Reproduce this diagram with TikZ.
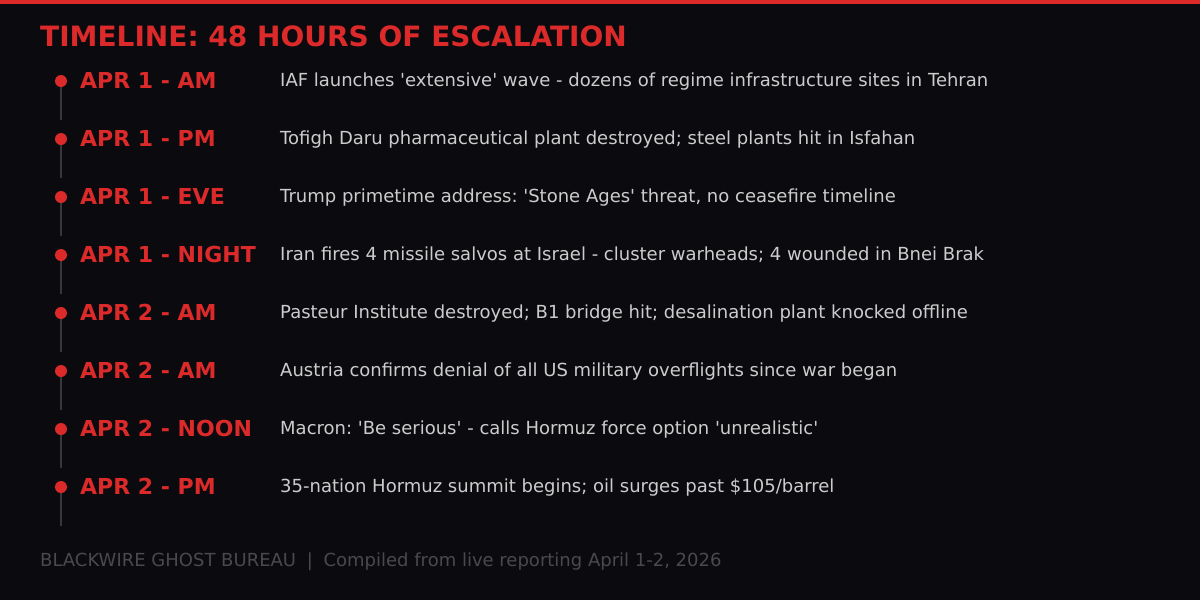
\documentclass[tikz,border=0pt]{standalone}
\usepackage{fontspec}
\setmainfont{DejaVu Sans}[Ligatures=TeXOff]
\frenchspacing
\definecolor{bgdark}{HTML}{0B0B0F}
\definecolor{alertred}{HTML}{DC2A2A}
\definecolor{desctext}{HTML}{CCCCCC}
\definecolor{footgray}{HTML}{4A4A4E}
\definecolor{stemgray}{HTML}{38383C}
\begin{document}
\begin{tikzpicture}[x=1pt,y=-1pt,
 dot/.style={shape=circle, fill=alertred, inner sep=0pt, minimum size=12pt, node contents=},
 when/.style={anchor=base west, inner sep=0pt, text=alertred, font=\fontsize{22}{26}\selectfont\bfseries},
 what/.style={anchor=base west, inner sep=0pt, text=desctext, font=\fontsize{18}{22}\selectfont},
 stem/.style={draw=stemgray, line width=2pt}]

 % background and top bar
 \useasboundingbox[fill=bgdark] (0,0) rectangle (1200,600);
 \fill[alertred] (0,0) rectangle (1200,4);

 % title
 \node (title) at (40,46) [anchor=base west, inner sep=0pt, text=alertred,
 font=\fontsize{28}{32}\selectfont\bfseries] {TIMELINE: 48 HOURS OF ESCALATION};

 % stems
 \coordinate (s1) at (61,120);
 \coordinate (s2) at (61,178);
 \coordinate (s3) at (61,236);
 \coordinate (s4) at (61,294);
 \coordinate (s5) at (61,352);
 \coordinate (s6) at (61,410);
 \coordinate (s7) at (61,468);
 \coordinate (s8) at (61,526);
 \coordinate (t1) at (61,81);
 \coordinate (t2) at (61,139);
 \coordinate (t3) at (61,197);
 \coordinate (t4) at (61,255);
 \coordinate (t5) at (61,313);
 \coordinate (t6) at (61,371);
 \coordinate (t7) at (61,429);
 \coordinate (t8) at (61,487);
 \draw[stem] (t1) -- (s1);
 \draw[stem] (t2) -- (s2);
 \draw[stem] (t3) -- (s3);
 \draw[stem] (t4) -- (s4);
 \draw[stem] (t5) -- (s5);
 \draw[stem] (t6) -- (s6);
 \draw[stem] (t7) -- (s7);
 \draw[stem] (t8) -- (s8);

 % APR 1
 \node (p1) at (t1) [dot];
 \node (d1) at (80,88) [when] {APR 1 - AM};
 \node (e1) at (280,86) [what] {IAF launches 'extensive' wave - dozens of regime infrastructure sites in Tehran};

 \node (p2) at (t2) [dot];
 \node (d2) at (80,146) [when] {APR 1 - PM};
 \node (e2) at (280,144) [what] {Tofigh Daru pharmaceutical plant destroyed; steel plants hit in Isfahan};

 \node (p3) at (t3) [dot];
 \node (d3) at (80,204) [when] {APR 1 - EVE};
 \node (e3) at (280,202) [what] {Trump primetime address: 'Stone Ages' threat, no ceasefire timeline};

 \node (p4) at (t4) [dot];
 \node (d4) at (80,262) [when] {APR 1 - NIGHT};
 \node (e4) at (280,260) [what] {Iran fires 4 missile salvos at Israel - cluster warheads; 4 wounded in Bnei Brak};

 % APR 2
 \node (p5) at (t5) [dot];
 \node (d5) at (80,320) [when] {APR 2 - AM};
 \node (e5) at (280,318) [what] {Pasteur Institute destroyed; B1 bridge hit; desalination plant knocked offline};

 \node (p6) at (t6) [dot];
 \node (d6) at (80,378) [when] {APR 2 - AM};
 \node (e6) at (280,376) [what] {Austria confirms denial of all US military overflights since war began};

 \node (p7) at (t7) [dot];
 \node (d7) at (80,436) [when] {APR 2 - NOON};
 \node (e7) at (280,434) [what] {Macron: 'Be serious' - calls Hormuz force option 'unrealistic'};

 \node (p8) at (t8) [dot];
 \node (d8) at (80,494) [when] {APR 2 - PM};
 \node (e8) at (280,492) [what] {35-nation Hormuz summit begins; oil surges past \$105/barrel};

 % footer
 \node (foot) at (40,566) [anchor=base west, inner sep=0pt, text=footgray,
 font=\fontsize{18}{22}\selectfont] {BLACKWIRE GHOST BUREAU \;|\; Compiled from live reporting April 1-2, 2026};
\end{tikzpicture}
\end{document}
